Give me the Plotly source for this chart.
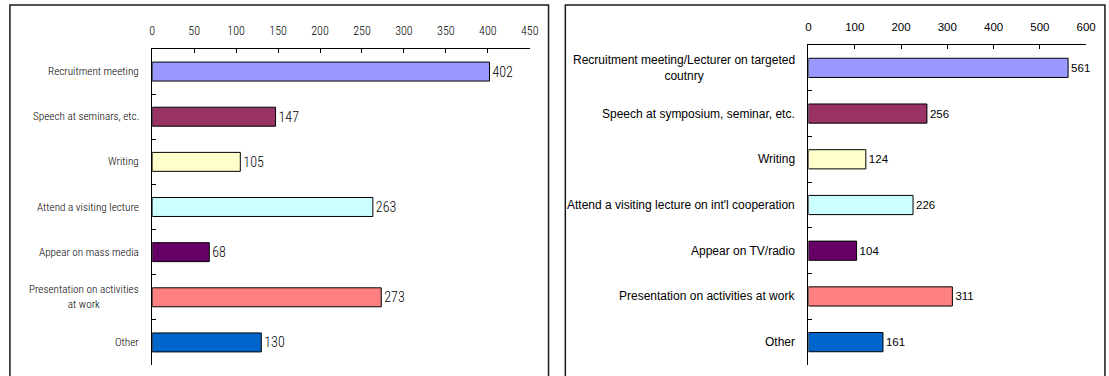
import plotly.graph_objects as go

W, H = 1109, 376

# Left panel data
left_categories = [
    "Recruitment meeting",
    "Speech at seminars, etc.",
    "Writing",
    "Attend a visiting lecture",
    "Appear on mass media",
    "Presentation on activities<br>at work",
    "Other",
]
left_values = [402, 147, 105, 263, 68, 273, 130]
left_ticks = [0, 50, 100, 150, 200, 250, 300, 350, 400, 450]

# Right panel data
right_categories = [
    "Recruitment meeting/Lecturer on targeted<br>coutnry",
    "Speech at symposium, seminar, etc.",
    "Writing",
    "Attend a visiting lecture on int'l cooperation",
    "Appear on TV/radio",
    "Presentation on activities at work",
    "Other",
]
right_values = [561, 256, 124, 226, 104, 311, 161]
right_ticks = [0, 100, 200, 300, 400, 500, 600]

bar_colors = ["#9999FF", "#993366", "#FFFFCC", "#CCFFFF", "#660066", "#FF8080", "#0066CC"]

NARROW = "Roboto Condensed, Liberation Sans Narrow, Arial Narrow, sans-serif"
ARIAL = "Liberation Sans, Arial, sans-serif"


def px_x(p):
    return p / W


def px_y(p):
    return 1 - p / H


fig = go.Figure()

fig.add_trace(go.Bar(
    x=left_values, y=left_categories, orientation="h",
    marker=dict(color=bar_colors, line=dict(color="#000000", width=1)),
    text=left_values, textposition="outside", cliponaxis=False,
    textfont=dict(family=NARROW, size=14, weight=300, color="#000000"),
    xaxis="x", yaxis="y", showlegend=False,
))
fig.add_trace(go.Bar(
    x=right_values, y=right_categories, orientation="h",
    marker=dict(color=bar_colors, line=dict(color="#000000", width=1)),
    text=right_values, textposition="outside", cliponaxis=False,
    textfont=dict(family=ARIAL, size=11.5, color="#000000"),
    xaxis="x2", yaxis="y2", showlegend=False,
))

common_x = dict(
    side="top", showgrid=False, zeroline=False, showline=True,
    linecolor="#000000", linewidth=1, ticks="inside", ticklen=4,
    tickcolor="#000000", fixedrange=True,
)
common_y = dict(
    showgrid=False, zeroline=False, showline=True, linecolor="#000000",
    linewidth=1, ticks="inside", ticklen=4, tickcolor="#000000",
    tickson="boundaries", showticklabels=False, autorange="reversed",
    fixedrange=True,
)

fig.update_layout(
    width=W, height=H,
    margin=dict(l=0, r=0, t=0, b=0),
    paper_bgcolor="#FFFFFF", plot_bgcolor="rgba(0,0,0,0)",
    bargap=0.58,
    xaxis=dict(common_x, domain=[px_x(151), px_x(533)], range=[0, 450],
               tickvals=left_ticks, anchor="y", ticklabelstandoff=8,
               tickfont=dict(family=NARROW, size=12, weight=300, color="#000000")),
    yaxis=dict(common_y, domain=[px_y(365), px_y(49)], anchor="x"),
    xaxis2=dict(common_x, domain=[px_x(815), px_x(1096)], range=[0, 600],
                tickvals=right_ticks, anchor="y2", ticklabelstandoff=8,
                tickfont=dict(family=ARIAL, size=11.5, color="#000000")),
    yaxis2=dict(common_y, domain=[px_y(365), px_y(45)], anchor="x2"),
)

# Category labels, centred line by line and right-aligned to the axis
annotations = []
for cat in left_categories:
    annotations.append(dict(
        text=cat, x=0, xref="x domain", y=cat, yref="y",
        xanchor="right", yanchor="middle", xshift=-11, align="center",
        showarrow=False,
        font=dict(family=NARROW, size=11.2, weight=300, color="#000000"),
    ))
for cat in right_categories:
    annotations.append(dict(
        text=cat, x=0, xref="x2 domain", y=cat, yref="y2",
        xanchor="right", yanchor="middle", xshift=-11, align="center",
        showarrow=False, font=dict(family=ARIAL, size=12, color="#000000"),
    ))
fig.update_layout(annotations=annotations)

# Panel frames
frame = dict(type="rect", xref="paper", yref="paper",
             line=dict(color="#1a1a1a", width=1.5), fillcolor="rgba(0,0,0,0)")
fig.update_layout(shapes=[
    dict(frame, x0=px_x(7), x1=px_x(552), y0=px_y(380), y1=px_y(5)),
    dict(frame, x0=px_x(569), x1=px_x(1115), y0=px_y(380), y1=px_y(5)),
])

fig.write_html("out.html")
